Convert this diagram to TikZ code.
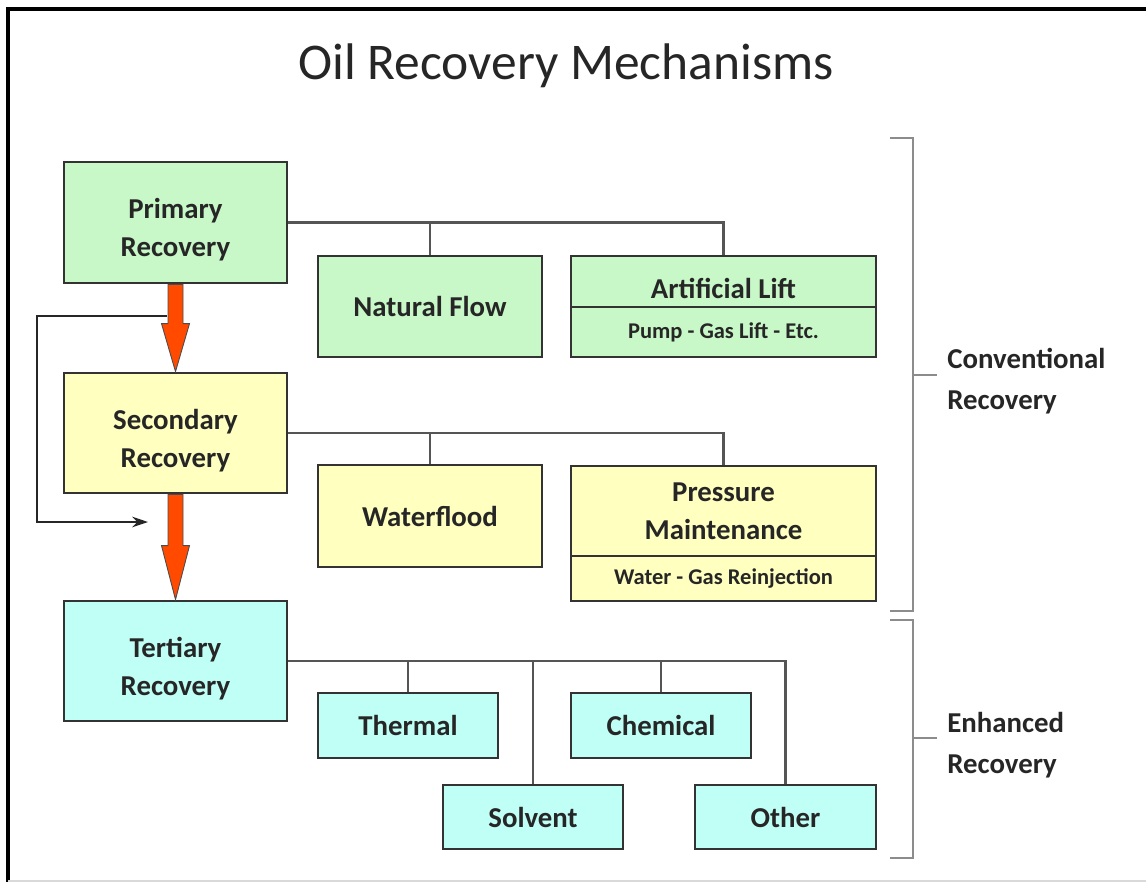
\documentclass[tikz,border=0pt]{standalone}
\usepackage{fontspec}
\setmainfont{Carlito}
\usetikzlibrary{calc,arrows.meta}
\definecolor{primfill}{HTML}{C8F8C8}
\definecolor{secfill}{HTML}{FFFFC0}
\definecolor{tertfill}{HTML}{C0FFF6}
\definecolor{boxline}{HTML}{333333}
\definecolor{linkline}{HTML}{555555}
\definecolor{flowred}{HTML}{FF4A00}
\definecolor{bracketgray}{HTML}{8C8C8C}
\tikzset{
  box/.style={draw=boxline, line width=1.6pt, inner sep=0pt, align=center,
              font=\fontsize{16.4}{21.5}\selectfont\bfseries, text=black!85},
  primbox/.style={box, fill=primfill},
  secbox/.style={box, fill=secfill},
  tertbox/.style={box, fill=tertfill},
  lowtext/.style={text height=20pt},
  lowpair/.style={text height=41.5pt},
  subfont/.style={font=\fontsize{12.8}{15}\selectfont\bfseries},
  link/.style={draw=linkline, line width=1.2pt},
  bigarrow/.style={fill=flowred, draw=black!70, line width=0.5pt},
  feedback/.style={draw=black!85, line width=1.1pt, -{Stealth[length=9pt,width=6pt]}},
  bracket/.style={draw=bracketgray, line width=1.6pt},
  sidelabel/.style={anchor=west, align=left, inner sep=0pt,
                    font=\fontsize{16.4}{23}\selectfont\bfseries, text=black!85},
}
\begin{document}
\begin{tikzpicture}[x=0.02cm, y=-0.02cm]
  \useasboundingbox[fill=white] (0,0) rectangle (1146,882);
  % frame
  \draw[line width=1.8pt] (8,882) -- (8,9) -- (1146,9);
  \draw[black!15, line width=0.6pt] (8,881) -- (1146,881);
  % title
  \node[anchor=base, font=\fontsize{29.3}{35}\selectfont, text=black!85] (title) at (566,80) {Oil Recovery Mechanisms};

  % primary
  \node[primbox, lowpair, minimum width=4.46cm, minimum height=2.42cm] (prim) at (175.5,222.5) {Primary\\Recovery};
  \node[primbox, minimum width=4.48cm, minimum height=2.02cm] (natflow) at (430,306.5) {Natural Flow};
  \node[primbox, lowtext, minimum width=6.10cm, minimum height=1.02cm] (alift) at (723.5,281.5) {Artificial Lift};
  \node[primbox, subfont, minimum width=6.10cm, minimum height=1.00cm] (aliftsub) at (723.5,332) {Pump - Gas Lift - Etc.};

  % secondary
  \node[secbox, lowpair, minimum width=4.46cm, minimum height=2.40cm] (sec) at (175.5,433) {Secondary\\Recovery};
  \node[secbox, minimum width=4.48cm, minimum height=2.04cm] (wflood) at (430,516) {Waterflood};
  \node[secbox, minimum width=6.10cm, minimum height=1.80cm] (pmaint) at (723.5,511) {Pressure\\Maintenance};
  \node[secbox, subfont, minimum width=6.10cm, minimum height=0.90cm] (pmaintsub) at (723.5,578.5) {Water - Gas Reinjection};

  % tertiary
  \node[tertbox, lowpair, minimum width=4.46cm, minimum height=2.40cm] (tert) at (175.5,661) {Tertiary\\Recovery};
  \node[tertbox, minimum width=3.60cm, minimum height=1.30cm] (thermal) at (408,725.5) {Thermal};
  \node[tertbox, minimum width=3.60cm, minimum height=1.30cm] (chemical) at (661,725.5) {Chemical};
  \node[tertbox, minimum width=3.60cm, minimum height=1.28cm] (solvent) at (533,817) {Solvent};
  \node[tertbox, minimum width=3.62cm, minimum height=1.28cm] (other) at (785.5,817) {Other};

  % branch lines
  \draw[link] (prim.east) -| (alift.north);
  \draw[link] (natflow.north) -- (natflow.north |- prim.east);
  \draw[link] (sec.east) -| (pmaint.north);
  \draw[link] (wflood.north) -- (wflood.north |- sec.east);
  \draw[link] (tert.east) -| (other.north);
  \draw[link] (thermal.north) -- (thermal.north |- tert.east);
  \draw[link] (solvent.north) -- (solvent.north |- tert.east);
  \draw[link] (chemical.north) -- (chemical.north |- tert.east);

  % stage arrows
  \draw[bigarrow] ($(prim.south)+(-7.5,0)$) -- ($(sec.north)+(-7.5,-48)$) -- ($(sec.north)+(-14,-48)$)
    -- (sec.north) -- ($(sec.north)+(14,-48)$) -- ($(sec.north)+(7.5,-48)$) -- ($(prim.south)+(7.5,0)$) -- cycle;
  \draw[bigarrow] ($(sec.south)+(-7.5,0)$) -- ($(tert.north)+(-7.5,-54)$) -- ($(tert.north)+(-14,-54)$)
    -- (tert.north) -- ($(tert.north)+(14,-54)$) -- ($(tert.north)+(7.5,-54)$) -- ($(sec.south)+(7.5,0)$) -- cycle;

  % skip secondary
  \coordinate (fbstart) at (167,316);
  \coordinate (fbleft) at (37,316);
  \coordinate (fbend) at (148,522);
  \draw[feedback] (fbstart) -- (fbleft) |- (fbend);

  % brackets
  \draw[bracket] (890,138) -- (913,138) -- (913,611) -- (890,611);
  \draw[bracket] (913,375) -- (937,375);
  \draw[bracket] (890,620) -- (913,620) -- (913,858) -- (890,858);
  \draw[bracket] (913,738) -- (937,738);
  \node[sidelabel] (conv) at (947,381) {Conventional\\Recovery};
  \node[sidelabel] (enh) at (947,745) {Enhanced\\Recovery};
\end{tikzpicture}
\end{document}
